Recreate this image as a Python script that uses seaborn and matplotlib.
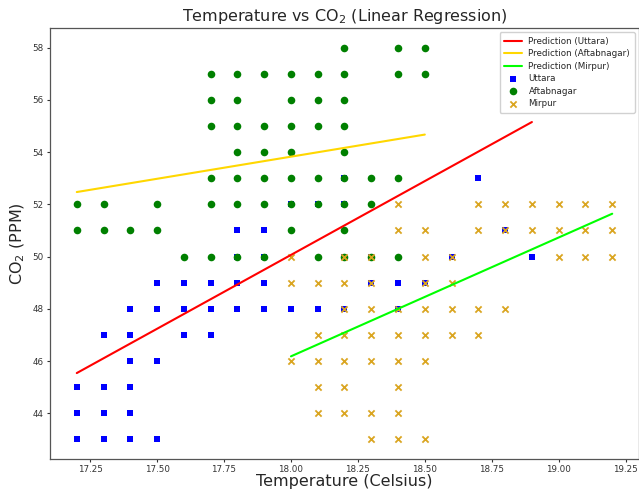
import numpy as np
import pandas as pd
import matplotlib
matplotlib.use("Agg")
import matplotlib.pyplot as plt
import seaborn as sns

# ---- data ----
uttara_temp = [17.2, 17.3, 17.4, 17.5,
               17.2, 17.3, 17.4,
               17.2, 17.3, 17.4,
               17.4, 17.5,
               17.3, 17.4, 17.6, 17.7,
               17.4, 17.5, 17.6, 17.7, 17.8, 17.9, 18.0, 18.1, 18.2, 18.4,
               17.5, 17.6, 17.7, 17.8, 17.9, 18.3, 18.4, 18.5,
               17.8, 17.9, 18.2, 18.3, 18.6, 18.9,
               17.8, 17.9, 18.8,
               18.0, 18.1, 18.2,
               18.2, 18.7]
uttara_co2 = [43, 43, 43, 43,
              44, 44, 44,
              45, 45, 45,
              46, 46,
              47, 47, 47, 47,
              48, 48, 48, 48, 48, 48, 48, 48, 48, 48,
              49, 49, 49, 49, 49, 49, 49, 49,
              50, 50, 50, 50, 50, 50,
              51, 51, 51,
              52, 52, 52,
              53, 53]

aftab_temp = [18.2, 18.4, 18.5,
              17.7, 17.8, 17.9, 18.0, 18.1, 18.2, 18.4, 18.5,
              17.7, 17.8, 18.0, 18.1, 18.2,
              17.7, 17.8, 17.9, 18.0, 18.1, 18.2,
              17.8, 17.9, 18.0, 18.2,
              17.7, 17.8, 17.9, 18.0, 18.1, 18.2, 18.3, 18.4,
              17.2, 17.3, 17.5, 17.7, 17.8, 17.9, 18.0, 18.1, 18.2, 18.3,
              17.2, 17.3, 17.4, 17.5, 18.0, 18.2,
              17.6, 17.7, 17.8, 17.9, 18.1, 18.2, 18.3, 18.4]
aftab_co2 = [58, 58, 58,
             57, 57, 57, 57, 57, 57, 57, 57,
             56, 56, 56, 56, 56,
             55, 55, 55, 55, 55, 55,
             54, 54, 54, 54,
             53, 53, 53, 53, 53, 53, 53, 53,
             52, 52, 52, 52, 52, 52, 52, 52, 52, 52,
             51, 51, 51, 51, 51, 51,
             50, 50, 50, 50, 50, 50, 50, 50]

mirpur_temp = [18.4, 18.7, 18.8, 18.9, 19.0, 19.1, 19.2,
               18.4, 18.5, 18.7, 18.8, 18.9, 19.0, 19.1, 19.2,
               18.0, 18.2, 18.3, 18.5, 18.6, 19.0, 19.1, 19.2,
               18.0, 18.1, 18.2, 18.3, 18.5, 18.6,
               18.2, 18.3, 18.4, 18.5, 18.6, 18.7, 18.8,
               18.1, 18.2, 18.3, 18.4, 18.5, 18.6, 18.7,
               18.0, 18.1, 18.2, 18.3, 18.4, 18.5,
               18.1, 18.2, 18.4,
               18.1, 18.2, 18.3, 18.4,
               18.3, 18.4, 18.5]
mirpur_co2 = [52, 52, 52, 52, 52, 52, 52,
              51, 51, 51, 51, 51, 51, 51, 51,
              50, 50, 50, 50, 50, 50, 50, 50,
              49, 49, 49, 49, 49, 49,
              48, 48, 48, 48, 48, 48, 48,
              47, 47, 47, 47, 47, 47, 47,
              46, 46, 46, 46, 46, 46,
              45, 45, 45,
              44, 44, 44, 44,
              43, 43, 43]

# regression prediction lines (endpoints)
pred_uttara_temp = [17.2, 18.9]
pred_uttara_co2 = [45.54, 55.15]
pred_aftab_temp = [17.2, 18.5]
pred_aftab_co2 = [52.47, 54.67]
pred_mirpur_temp = [18.0, 19.2]
pred_mirpur_co2 = [46.18, 51.64]

x_ticks = [17.25, 17.5, 17.75, 18.0, 18.25, 18.5, 18.75, 19.0, 19.25]
x_ticklabels = ["17.25", "17.50", "17.75", "18.00", "18.25", "18.50",
                "18.75", "19.00", "19.25"]
y_ticks = [44, 46, 48, 50, 52, 54, 56, 58]

sns.set_style("ticks")
plt.rcParams['font.family'] = ['DejaVu Sans']

fig = plt.figure(figsize=(6.39, 4.92), dpi=100)
ax = fig.add_axes([50 / 639, 33 / 492, 589 / 639, 431 / 492])

sns.lineplot(x=pred_uttara_temp, y=pred_uttara_co2, color="red", lw=1.5,
             label="Prediction (Uttara)", ax=ax, sort=False)
sns.lineplot(x=pred_aftab_temp, y=pred_aftab_co2, color="gold", lw=1.5,
             label="Prediction (Aftabnagar)", ax=ax, sort=False)
sns.lineplot(x=pred_mirpur_temp, y=pred_mirpur_co2, color="lime", lw=1.5,
             label="Prediction (Mirpur)", ax=ax, sort=False)

sns.scatterplot(x=uttara_temp, y=uttara_co2, marker="s", color="blue", s=24,
                linewidth=0, label="Uttara", ax=ax)
sns.scatterplot(x=aftab_temp, y=aftab_co2, marker="o", color="green", s=30,
                linewidth=0, label="Aftabnagar", ax=ax)
sns.scatterplot(x=mirpur_temp, y=mirpur_co2, marker="x", color="goldenrod", s=20,
                linewidth=1.3, label="Mirpur", ax=ax)

ax.set_xticks(x_ticks)
ax.set_xticklabels(x_ticklabels)
ax.set_yticks(y_ticks)
ax.set_xlim(17.1, 19.3)
ax.set_ylim(42.25, 58.75)
ax.tick_params(labelsize=6.3, colors="#333333", length=2.5, width=0.8, pad=2)
for sp in ax.spines.values():
    sp.set_color("#555555")
    sp.set_linewidth(0.9)

ax.set_title("Temperature vs CO$_2$ (Linear Regression)", fontsize=11.5, pad=5)
ax.set_xlabel("Temperature (Celsius)", fontsize=11.5, labelpad=0)
ax.set_ylabel("CO$_2$ (PPM)", fontsize=11.5, labelpad=4)

ax.legend(loc="upper right", fontsize=6.3, frameon=True, framealpha=0.9,
          edgecolor="#cccccc", borderpad=0.5, handlelength=2.0,
          labelspacing=0.4)

fig.savefig("out.png", dpi=100)
